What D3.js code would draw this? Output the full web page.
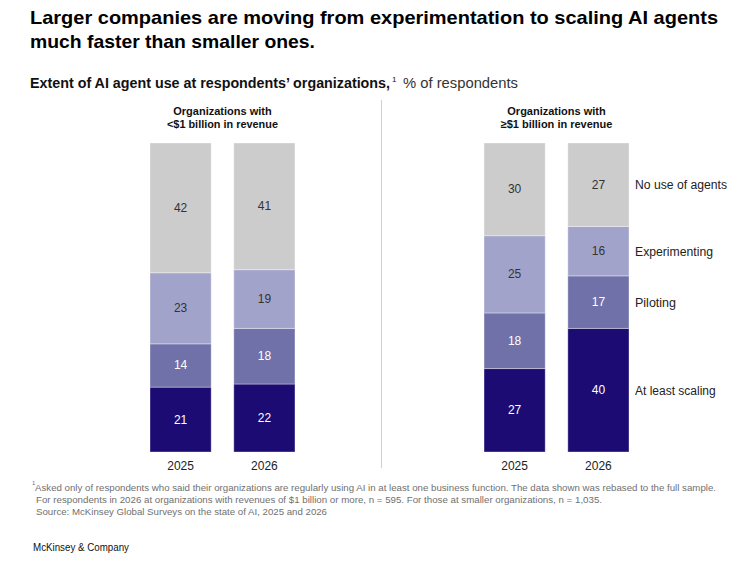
<!DOCTYPE html>
<html><head><meta charset="utf-8">
<script src="https://cdn.jsdelivr.net/npm/d3@7"></script>
<style>
body{margin:0;background:#fff;}
svg text{font-family:"Liberation Sans",Arial,sans-serif;}
</style></head>
<body><svg id="c" width="735" height="578"></svg>
<script>
// ---- data ----
const groups = ["small", "large"];
const groupLine1 = ["Organizations with", "Organizations with"];
const groupLine2 = ["<$1 billion in revenue", "≥$1 billion in revenue"];
const years = ["2025", "2026"];
const seriesNames = ["At least scaling", "Piloting", "Experimenting", "No use of agents"];
// values per column: [small 2025, small 2026, large 2025, large 2026]
const scaling = [21, 22, 27, 40];
const piloting = [14, 18, 18, 17];
const experimenting = [23, 19, 25, 16];
const noUse = [42, 41, 30, 27];
const colors = ["#1c0b72", "#6f71a8", "#a2a3cb", "#cccccc"];
const textColors = ["#ffffff", "#ffffff", "#333333", "#333333"];

const svg = d3.select("#c");

function fit(sel, w) {
  sel.each(function(){
    const l = this.getComputedTextLength();
    if (Math.abs(l - w) > 1) { d3.select(this).attr("textLength", w).attr("lengthAdjust", "spacingAndGlyphs"); }
  });
  return sel;
}

// title
svg.append("text").attr("x", 30).attr("y", 24).attr("font-size", 19).attr("font-weight", "bold").attr("fill", "#000")
  .text("Larger companies are moving from experimentation to scaling AI agents").call(fit, 688);
svg.append("text").attr("x", 30).attr("y", 48).attr("font-size", 19).attr("font-weight", "bold").attr("fill", "#000")
  .text("much faster than smaller ones.").call(fit, 285);

// subtitle
svg.append("text").attr("x", 30).attr("y", 88).attr("font-size", 14).attr("font-weight", "bold").attr("fill", "#111")
  .text("Extent of AI agent use at respondents’ organizations,").call(fit, 360);
svg.append("text").attr("x", 392).attr("y", 82).attr("font-size", 8).attr("fill", "#111").text("1");
svg.append("text").attr("x", 403).attr("y", 88).attr("font-size", 14).attr("fill", "#333")
  .text("% of respondents").call(fit, 115);

// data table
const cols = [];
groups.forEach((g, gi) => years.forEach((y, yi) => {
  const i = gi * 2 + yi;
  cols.push({group: g, year: y, "At least scaling": scaling[i], "Piloting": piloting[i], "Experimenting": experimenting[i], "No use of agents": noUse[i]});
}));
const stack = d3.stack().keys(seriesNames)(cols);

const yScale = d3.scaleLinear().domain([0, 100]).range([452, 143]);
const gx = d3.scaleBand().domain(groups).range([150, 629]).paddingInner(0.566);
const bx = d3.scaleBand().domain(years).range([0, gx.bandwidth()]).paddingInner(0.27);

const layers = svg.append("g").selectAll("g").data(stack).join("g")
  .attr("fill", (d, i) => colors[i]);
layers.selectAll("rect").data(d => d).join("rect")
  .attr("x", d => gx(d.data.group) + bx(d.data.year))
  .attr("width", bx.bandwidth())
  .attr("y", d => yScale(d[1]))
  .attr("height", d => yScale(d[0]) - yScale(d[1]))
  .attr("stroke", "rgba(255,255,255,0.35)").attr("stroke-width", 1);

// value labels
stack.forEach((s, si) => {
  svg.append("g").selectAll("text").data(s).join("text")
    .attr("x", d => gx(d.data.group) + bx(d.data.year) + bx.bandwidth() / 2)
    .attr("y", d => (yScale(d[0]) + yScale(d[1])) / 2 + 4)
    .attr("text-anchor", "middle").attr("font-size", 12).attr("fill", textColors[si])
    .text(d => d[1] - d[0]);
});

// year labels (axis)
groups.forEach(g => {
  const ax = d3.axisBottom(d3.scaleBand().domain(years).range([gx(g), gx(g) + gx.bandwidth()]).paddingInner(0.27)).tickSize(0);
  const a = svg.append("g").attr("transform", "translate(0,458)").call(ax);
  a.select(".domain").remove();
  a.selectAll("text").attr("font-size", 12).attr("fill", "#222").attr("font-family", "Liberation Sans, Arial, sans-serif");
});

// group headers
groups.forEach((g, gi) => {
  const cx = gx(g) + gx.bandwidth() / 2;
  svg.append("text").attr("x", cx).attr("y", 115).attr("text-anchor", "middle").attr("font-size", 11).attr("font-weight", "bold").attr("fill", "#111")
    .text(groupLine1[gi]).call(fit, 99);
  svg.append("text").attr("x", cx).attr("y", 127.5).attr("text-anchor", "middle").attr("font-size", 11).attr("font-weight", "bold").attr("fill", "#111")
    .text(groupLine2[gi]).call(fit, 111);
});

// divider
svg.append("line").attr("x1", 381.5).attr("x2", 381.5).attr("y1", 100).attr("y2", 468).attr("stroke", "#cfcfcf").attr("stroke-width", 1);

// legend labels next to last bar
const last = cols.length - 1;
const legendW = [81, 41, 78, 92];
stack.forEach((s, si) => {
  const d = s[last];
  svg.append("text").attr("x", 635).attr("y", (yScale(d[0]) + yScale(d[1])) / 2 + 4.5)
    .attr("font-size", 12).attr("fill", "#222").text(seriesNames[si]).call(fit, legendW[si]);
});

// footnotes
const fn = svg.append("g").attr("fill", "#707070");
fn.append("text").attr("x", 32).attr("y", 485).attr("font-size", 6).text("1");
fn.append("text").attr("x", 35).attr("y", 491).attr("font-size", 9.5)
  .text("Asked only of respondents who said their organizations are regularly using AI in at least one business function. The data shown was rebased to the full sample.").call(fit, 681);
fn.append("text").attr("x", 36).attr("y", 503).attr("font-size", 9.5)
  .text("For respondents in 2026 at organizations with revenues of $1 billion or more, n = 595.  For those at smaller organizations, n = 1,035.").call(fit, 566);
fn.append("text").attr("x", 36).attr("y", 515).attr("font-size", 9.5)
  .text("Source: McKinsey Global Surveys on the state of AI, 2025 and 2026").call(fit, 291);

svg.append("text").attr("x", 33).attr("y", 551).attr("font-size", 10).attr("fill", "#111")
  .text("McKinsey & Company").call(fit, 96);
</script>
</body></html>
